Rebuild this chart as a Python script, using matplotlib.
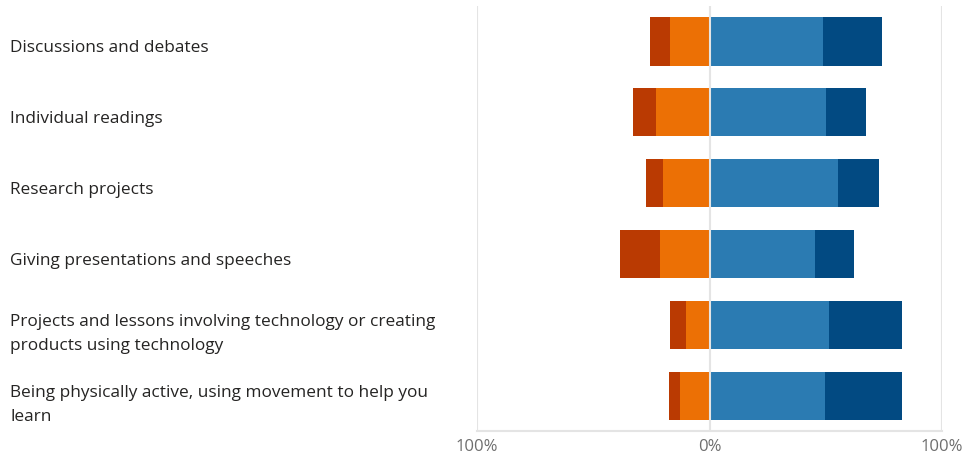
import matplotlib
matplotlib.use("Agg")
import matplotlib.pyplot as plt

# Survey items (top to bottom) and response shares in percent
categories = [
    "Discussions and debates",
    "Individual readings",
    "Research projects",
    "Giving presentations and speeches",
    "Projects and lessons involving technology or creating\nproducts using technology",
    "Being physically active, using movement to help you\nlearn",
]
strongly_disagree = [9.0, 9.5, 7.7, 16.8, 6.9, 5.1]
somewhat_disagree = [16.8, 23.2, 19.8, 21.5, 9.9, 12.5]
somewhat_agree = [49.0, 50.3, 55.1, 45.2, 51.2, 49.5]
strongly_agree = [25.4, 17.2, 17.6, 16.8, 31.8, 33.1]

tick_values = [-100, 0, 100]
tick_labels = ["100%", "0%", "100%"]

col_sd = "#BA3A02"
col_d = "#EC7005"
col_a = "#2B7BB2"
col_sa = "#024A82"
grid_col = "#E4E4E4"

plt.rcParams["font.family"] = ["Open Sans", "DejaVu Sans"]

W, H = 967, 460
fig = plt.figure(figsize=(W / 100, H / 100), dpi=100)
ax = fig.add_axes([477 / W, (H - 432) / H, (942 - 477) / W, (432 - 7) / H])

n = len(categories)
ys = list(range(n))
bh = 0.68

for y, sd, d, a, sa in zip(ys, strongly_disagree, somewhat_disagree,
                           somewhat_agree, strongly_agree):
    ax.barh(y, -d, left=0, height=bh, color=col_d, linewidth=0, zorder=2)
    ax.barh(y, -sd, left=-d, height=bh, color=col_sd, linewidth=0, zorder=2)
    ax.barh(y, a, left=0, height=bh, color=col_a, linewidth=0, zorder=2)
    ax.barh(y, sa, left=a, height=bh, color=col_sa, linewidth=0, zorder=2)

ax.set_xlim(-100, 100)
ax.set_ylim(n - 0.5, -0.5)

for v in tick_values:
    ax.axvline(v, color=grid_col, linewidth=1.5, zorder=3 if v == 0 else 1)

for s in ["top", "left", "right"]:
    ax.spines[s].set_visible(False)
ax.spines["bottom"].set_color(grid_col)
ax.spines["bottom"].set_linewidth(1.5)

ax.set_yticks([])
ax.set_xticks(tick_values)
ax.set_xticklabels(tick_labels, fontsize=12, color="#6e6e6e")
ax.tick_params(axis="x", length=0, pad=5)

# Category labels in the left margin, one text per line, positioned by baseline
line_step = 23.3  # pixels between baselines
to_fig = fig.transFigure.inverted()
for y, label in zip(ys, categories):
    lines = label.split("\n")
    cy = ax.transData.transform((0, y))[1]
    first = cy - 9.7 + (len(lines) - 1) * 9.0
    for i, line in enumerate(lines):
        py = first - i * line_step
        fy = to_fig.transform((0, py))[1]
        fig.text(10 / W, fy, line, ha="left", va="baseline", fontsize=12.4,
                 color="#252423")

fig.savefig("out.png", dpi=100)
